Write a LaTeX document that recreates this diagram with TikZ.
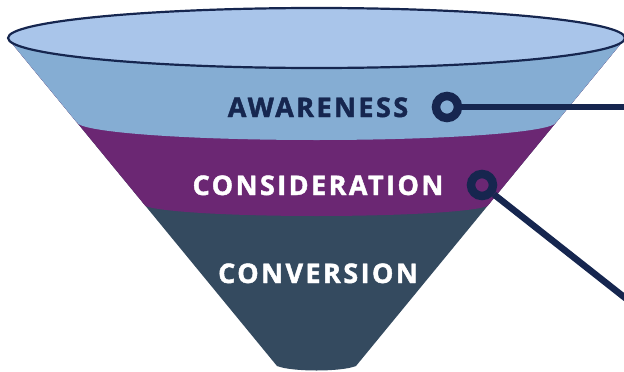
\documentclass[tikz,border=0pt]{standalone}
\usepackage{fontspec}
\setmainfont{Open Sans}
\newfontfamily\labelfont{Open Sans}[UprightFont={* Bold},LetterSpace=9,FakeBold=1.6]
\definecolor{topblue}{HTML}{A9C5EA}
\definecolor{awblue}{HTML}{85ADD3}
\definecolor{conpurple}{HTML}{6B2773}
\definecolor{convslate}{HTML}{344A5F}
\definecolor{navy}{HTML}{16264F}
\tikzset{
  stagelabel/.style={font=\labelfont\fontsize{27}{31}\selectfont, anchor=base, inner sep=0pt},
  ring/.style={circle, draw=navy, line width=8.5pt, minimum size=22pt, inner sep=0pt},
  callout/.style={draw=navy, line width=6.5pt}
}
\begin{document}
\begin{tikzpicture}[x=1pt,y=-1pt]
\useasboundingbox (0,0) rectangle (624,372);
\begin{scope}
  \clip (7.5,38) -- (277,366) .. controls (292,372) and (341,372) .. (356,366) -- (625.5,38) -- cycle;
  \fill[convslate] (0,0) rectangle (640,380);
  \fill[conpurple] (0,0) rectangle (640,204);
  \fill[conpurple] (316.5,204) ellipse [x radius=173.5pt, y radius=12pt];
  \fill[awblue] (0,0) rectangle (640,122);
  \fill[awblue] (316.5,122) ellipse [x radius=239.5pt, y radius=18pt];
\end{scope}
\filldraw[fill=topblue, draw=navy, line width=2.2pt] (316.5,38) ellipse [x radius=308.5pt, y radius=30pt];
\node[stagelabel, text=navy] (aw) at (318,117) {AWARENESS};
\node[stagelabel, text=white] (cons) at (318,195) {CONSIDERATION};
\node[stagelabel, text=white] (conv) at (318,283) {CONVERSION};
\node[ring] (c1) at (447,107) {};
\node[ring] (c2) at (482,185) {};
\coordinate (e1) at (640,107);
\coordinate (e2) at (640,309.6);
\draw[callout] (c1) -- (e1);
\draw[callout] (c2) -- (e2);
\end{tikzpicture}
\end{document}
